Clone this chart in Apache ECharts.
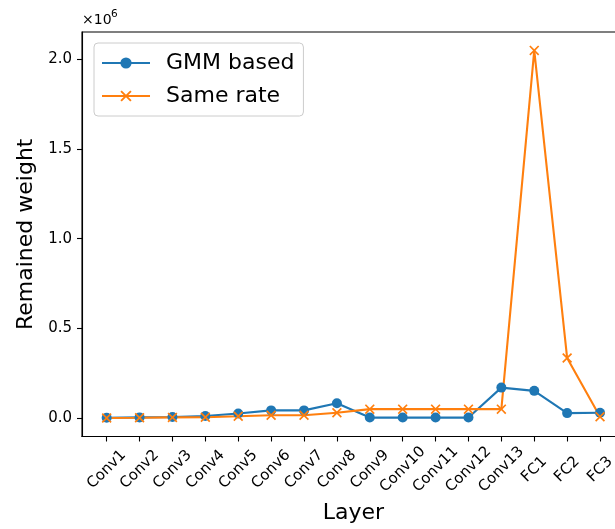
<!DOCTYPE html>
<html>
<head>
<meta charset="utf-8">
<script src="https://cdn.jsdelivr.net/npm/echarts@6/dist/echarts.min.js"></script>
<style>html,body{margin:0;padding:0;background:#fff}#c{width:615px;height:529px}</style>
</head>
<body>
<div id="c"></div>
<script>
const categories = ['Conv1','Conv2','Conv3','Conv4','Conv5','Conv6','Conv7','Conv8','Conv9','Conv10','Conv11','Conv12','Conv13','FC1','FC2','FC3'];
const gmmBased = [2000, 4000, 6000, 12000, 26000, 43000, 43000, 83000, 3000, 3000, 3000, 3000, 170000, 152000, 28000, 30000];
const sameRate = [1000, 2000, 4000, 5000, 10000, 16000, 16000, 30000, 50000, 50000, 50000, 50000, 50000, 2050000, 335000, 8000];
const yTicks = [0, 500000, 1000000, 1500000, 2000000];
const seriesNames = ['GMM based', 'Same rate'];

const FONT = 'DejaVu Sans';
const xIdx = categories.map((_, i) => i);
const toPairs = arr => arr.map((v, i) => [i, v]);
const xPath = 'path://M0,1.2 L1.2,0 L5,3.8 L8.8,0 L10,1.2 L6.2,5 L10,8.8 L8.8,10 L5,6.2 L1.2,10 L0,8.8 L3.8,5 Z';

const chart = echarts.init(document.getElementById('c'), null, {renderer: 'canvas'});
chart.setOption({
  animation: false,
  backgroundColor: '#fff',
  textStyle: {fontFamily: FONT},
  grid: {
    left: 82, top: 32, right: -9.7, bottom: 92.5,
    containLabel: false, outerBoundsMode: 'none',
    show: true, borderColor: '#000', borderWidth: 1.1
  },
  legend: {
    left: 94, top: 43, orient: 'vertical',
    padding: [9, 9, 9, 7], itemGap: 11,
    itemWidth: 48, itemHeight: 14,
    backgroundColor: 'rgba(255,255,255,0.8)',
    borderColor: '#cccccc', borderWidth: 1, borderRadius: 4,
    textStyle: {fontFamily: FONT, fontSize: 22, color: '#000', lineHeight: 22, padding: [0, 0, 0, 11]},
    data: seriesNames
  },
  xAxis: {
    type: 'value', min: -0.75, max: 15.75,
    name: 'Layer', nameLocation: 'middle', nameGap: 66,
    nameTextStyle: {fontFamily: FONT, fontSize: 22, color: '#000'},
    axisLine: {show: true, onZero: false, lineStyle: {color: '#000', width: 1.1}},
    axisTick: {show: true, inside: false, length: 5, lineStyle: {color: '#000', width: 1.1}, customValues: xIdx},
    axisLabel: {
      customValues: xIdx, rotate: 45, margin: 33, align: 'center', verticalAlign: 'middle',
      fontFamily: FONT, fontSize: 15, color: '#000',
      formatter: v => categories[Math.round(v)]
    },
    splitLine: {show: false}
  },
  yAxis: {
    type: 'value', min: -102500, max: 2152500,
    name: 'Remained weight', nameLocation: 'middle', nameGap: 45,
    nameTextStyle: {fontFamily: FONT, fontSize: 22, color: '#000'},
    axisLine: {show: true, onZero: false, lineStyle: {color: '#000', width: 1.1}},
    axisTick: {show: true, inside: false, length: 5, lineStyle: {color: '#000', width: 1.1}, customValues: yTicks},
    axisLabel: {
      customValues: yTicks, margin: 10,
      fontFamily: FONT, fontSize: 15, color: '#000',
      formatter: v => (v / 1e6).toFixed(1)
    },
    splitLine: {show: false}
  },
  graphic: [
    {type: 'text', left: 82, top: 13, style: {text: '×10', fontFamily: FONT, fontSize: 14, fill: '#000'}},
    {type: 'text', left: 111, top: 9, style: {text: '6', fontFamily: FONT, fontSize: 10.5, fill: '#000'}}
  ],
  series: [
    {
      name: seriesNames[0], type: 'line', data: toPairs(gmmBased),
      symbol: 'circle', symbolSize: 10, showAllSymbol: true,
      itemStyle: {color: '#1f77b4'},
      lineStyle: {color: '#1f77b4', width: 2.1}
    },
    {
      name: seriesNames[1], type: 'line', data: toPairs(sameRate),
      symbol: xPath, symbolSize: 10, showAllSymbol: true,
      itemStyle: {color: '#ff7f0e'},
      lineStyle: {color: '#ff7f0e', width: 2.1}
    }
  ]
});
</script>
</body>
</html>
